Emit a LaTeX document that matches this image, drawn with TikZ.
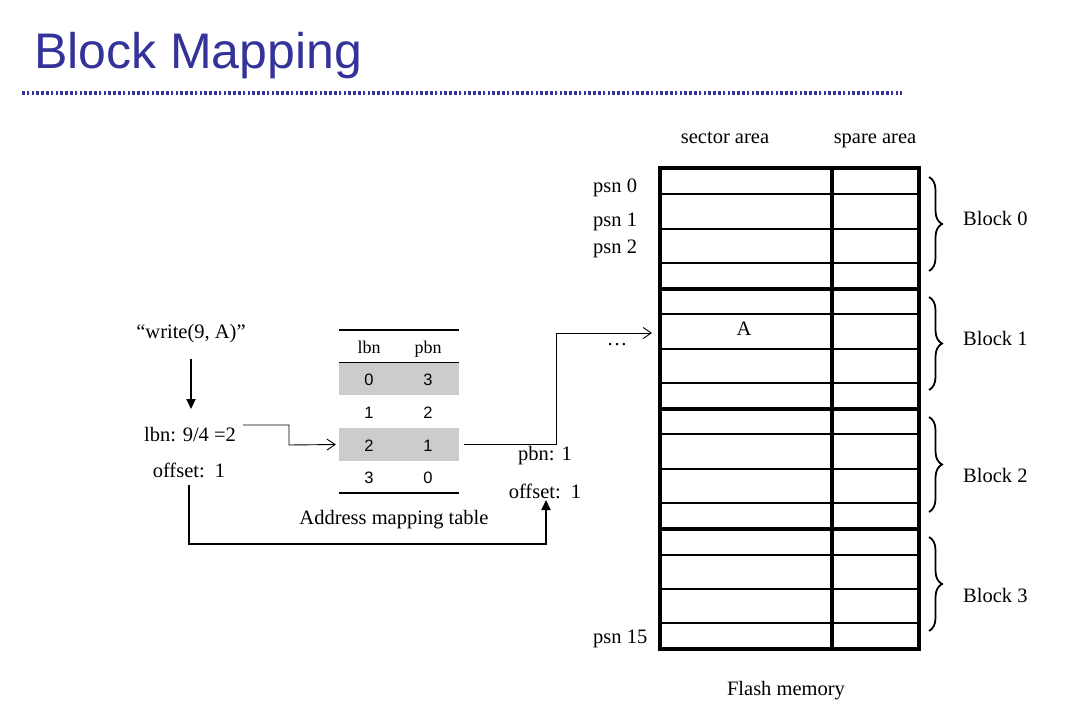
\documentclass[tikz,border=0pt]{standalone}
\usepackage{fontspec}
\setmainfont{Liberation Serif}
\newfontfamily\arialfont{Liberation Sans}
\usetikzlibrary{arrows.meta,decorations.pathreplacing,calc}
\definecolor{titleblue}{RGB}{51,51,153}
\definecolor{rowgray}{RGB}{204,204,204}
\begin{document}
\begin{tikzpicture}[x=1pt,y=-1pt,
  lbl/.style={font=\fontsize{20.5}{24}\selectfont, inner sep=0pt, anchor=base},
  num/.style={font=\arialfont\fontsize{16.5}{20}\selectfont, inner sep=0pt},
  hdr/.style={font=\fontsize{18}{20}\selectfont, inner sep=0pt, anchor=base},
  tabrow/.style={minimum width=120pt, minimum height=33pt, inner sep=0pt, draw=none},
  thinarrow/.style={line width=0.9pt, -{Straight Barb[length=8pt,width=11pt]}},
  thickarrow/.style={line width=2.2pt, -{Triangle[length=10pt,width=9pt]}},
  memthin/.style={line width=2pt},
  memthick/.style={line width=3.2pt},
  blockbrace/.style={decorate, decoration={brace, amplitude=13pt}, line width=1.8pt}
]
\useasboundingbox (0,0) rectangle (1077,725);

% title
\node[anchor=base west, inner sep=0pt, text=titleblue,
      font=\arialfont\fontsize{50}{56}\selectfont] (title) at (34,69) {Block Mapping};
\draw[titleblue, line width=3.4pt, dash pattern=on 2.6pt off 2.2pt] (22,93) -- (902,93);

% ---------------- flash memory ----------------
\def\xl{660}\def\xm{832}\def\xr{919}
\foreach \y in {194,229,263,314,349,383,434,469,503,555,589,623}
  \draw[memthin] (\xl,\y) -- (\xr,\y);
\foreach \y in {289,409,529}
  \draw[memthick] (\xl,\y) -- (\xr,\y);
\draw[memthick] (\xm,168) -- (\xm,649);
\draw[memthick] (\xl,168) rectangle (\xr,649);
\coordinate (memA) at (652,333);

\node[lbl] (sector) at (725,143) {sector area};
\node[lbl] (spare)  at (875,143) {spare area};
\node[lbl] (flash)  at (786,695) {Flash memory};
\node[lbl] (A) at (744,335) {A};

\node[lbl, anchor=base west] (psn0)  at (593,192) {psn 0};
\node[lbl, anchor=base west] (psn1)  at (593,226) {psn 1};
\node[lbl, anchor=base west] (psn2)  at (593,253) {psn 2};
\node[lbl, anchor=base west] (psn15) at (593,643) {psn 15};

\foreach \a/\b/\c/\n in {177/271/225/0, 297/390/345/1, 417/512/482/2, 537/631/602/3}{
  \draw[blockbrace] (929,\a) -- (929,\b);
  \node[lbl, anchor=base west] (block\n) at (963,\c) {Block \n};
}

% ---------------- mapping table ----------------
\node[tabrow, fill=rowgray] (row0) at (399,378.5) {};
\node[tabrow]               (row1) at (399,411.5) {};
\node[tabrow, fill=rowgray] (row2) at (399,444.5) {};
\node[tabrow]               (row3) at (399,477) {};
\draw[line width=1.6pt] (339,330) -- (459,330);
\draw[line width=1.6pt] (339,362.5) -- (459,362.5);
\draw[line width=1.6pt] (339,493) -- (459,493);
\node[hdr] (hl) at (369,353) {lbn};
\node[hdr] (hp) at (428,353) {pbn};
\foreach \r/\l/\p in {0/0/3, 1/1/2, 2/2/1, 3/3/0}{
  \node[num] at ($(row\r.center)+(-30,1)$) {\l};
  \node[num] at ($(row\r.center)+(29,1)$) {\p};
}
\node[lbl] (tabcap) at (394,524) {Address mapping table};

% ---------------- left side ----------------
\node[lbl] (write) at (191,338) {“write(9, A)”};
\node[lbl] (lbn) at (190,441) {lbn: 9/4 =2};
\node[lbl] (off1) at (189,477) {offset:\ \ 1};
\node[lbl] (pbn) at (545,460) {pbn: 1};
\node[lbl] (off2) at (545,498) {offset:\ \ 1};
\node[lbl] (dots) at (617,345) {…};

\coordinate (wend) at (191,409);
\coordinate (c1) at (289,445);
\coordinate (c2) at (556,333);
\coordinate (c3) at (546,544);
\coordinate (o2end) at (546,500);

\draw[thickarrow] ($(write.south)+(0,16)$) -- (wend);
\draw[thinarrow] ($(lbn.east)+(7,-9)$) -| (c1) -- ([xshift=-3pt]row2.west);
\draw[thinarrow] ([xshift=5pt]row2.east) -| (c2) -- (memA);
\draw[thickarrow] ($(off1.south)+(0,8)$) |- (c3) -- (o2end);
\end{tikzpicture}
\end{document}
